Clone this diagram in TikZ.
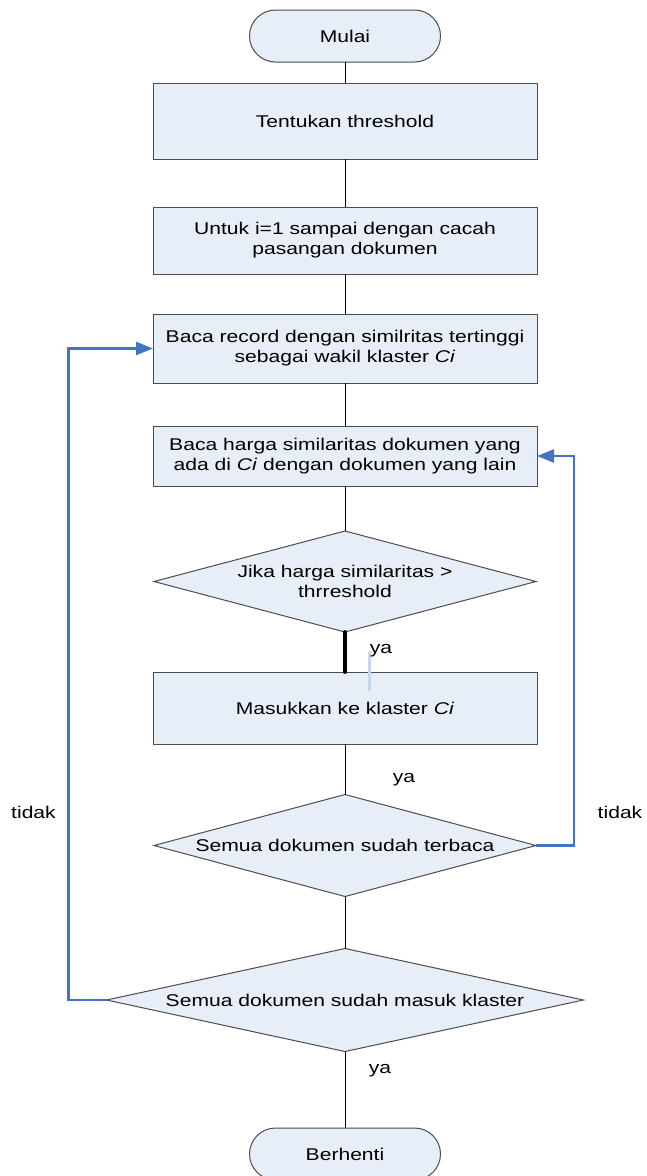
\documentclass[tikz,border=0pt]{standalone}
\usepackage{fontspec}
\setmainfont{Liberation Sans}[FakeStretch=1.24]
\usetikzlibrary{shapes.geometric,arrows.meta}
\definecolor{boxfill}{RGB}{232,238,247}
\definecolor{loopblue}{RGB}{68,114,196}
\definecolor{paleblue}{RGB}{200,214,236}

\begin{document}
\begin{tikzpicture}[x=1pt,y=-1pt,
  every node/.style={font=\fontsize{17}{20}\selectfont, outer sep=0pt},
  flowbox/.style={draw=black!70, line width=1pt, fill=boxfill, rectangle,
    minimum width=384pt, inner sep=0pt, align=center},
  terminal/.style={draw=black!70, line width=1pt, fill=boxfill, rectangle,
    rounded corners=26pt, minimum width=191pt, minimum height=52pt, inner sep=0pt},
  decision/.style={draw=black!70, line width=1pt, fill=boxfill, diamond,
    inner sep=0pt, align=center},
  flow/.style={draw=black, line width=1pt},
  backloop/.style={draw=loopblue, line width=2.4pt, -{Triangle[length=17pt,width=13pt]}},
  lbl/.style={anchor=base, inner sep=0pt}
]
\useasboundingbox (0,0) rectangle (646,1176);
\clip (0,0) rectangle (646,1176);

% process steps
\node[terminal] (start) at (345,36) {Mulai};
\node[flowbox, minimum height=76pt] (b1) at (345,121) {Tentukan threshold};
\node[flowbox, minimum height=67pt] (b2) at (345,240.5) {Untuk i=1 sampai dengan cacah\\pasangan dokumen};
\node[flowbox, minimum height=69pt] (b3) at (345,348.5) {Baca record dengan similritas tertinggi\\sebagai wakil klaster \textit{Ci}};
\node[flowbox, minimum height=60pt] (b4) at (345,456) {Baca harga similaritas dokumen yang\\ada di \textit{Ci} dengan dokumen yang lain};
\node[decision, minimum width=382pt, minimum height=101pt, shape aspect=3.8] (d1) at (345,581.5) {Jika harga similaritas >\\thrreshold};
\node[flowbox, minimum height=72pt] (b5) at (345,708) {Masukkan ke klaster \textit{Ci}};
\node[decision, minimum width=382pt, minimum height=102pt, shape aspect=3.8] (d2) at (345,845.5) {Semua dokumen sudah terbaca};
\node[decision, minimum width=477pt, minimum height=103pt, shape aspect=4.6] (d3) at (345,1000) {Semua dokumen sudah masuk klaster};
\node[terminal] (stop) at (345,1154) {Berhenti};

% main flow
\draw[flow] (start) -- (b1);
\draw[flow] (b1) -- (b2);
\draw[flow] (b2) -- (b3);
\draw[flow] (b3) -- (b4);
\draw[flow] (b4) -- (d1);
\draw[draw=black, line width=3.8pt, line cap=round] (d1.south) -- (b5.north);
\draw[flow] (b5) -- (d2);
\draw[flow] (d2) -- (d3);
\draw[flow] (d3) -- (stop);

\draw[paleblue, line width=3pt, line cap=round] (369,652) -- (369,690);

% loops back
\draw[backloop] (d2.east) -- ++(38,0) |- (b4.east);
\draw[backloop] (d3.west) -- ++(-38,0) |- (b3.west);

% branch labels
\node[lbl] (ya1) at (381,653) {ya};
\node[lbl] (ya2) at (404,782) {ya};
\node[lbl] (ya3) at (380,1073) {ya};
\node[lbl] (tidakL) at (33.5,818) {tidak};
\node[lbl] (tidakR) at (620,818) {tidak};
\end{tikzpicture}
\end{document}
